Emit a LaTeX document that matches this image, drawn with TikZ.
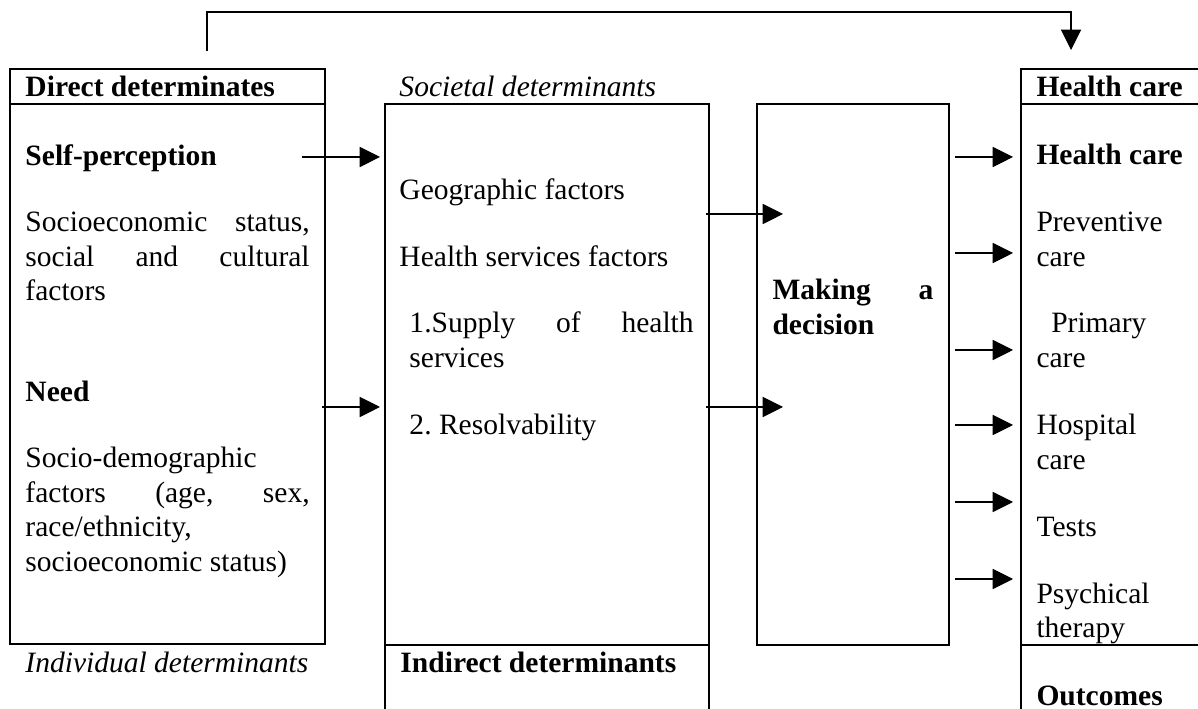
\documentclass[tikz,border=0pt]{standalone}
\usepackage{fontspec}
\setmainfont{Liberation Serif}
\usetikzlibrary{arrows.meta}
\hbadness=10000
\frenchspacing

\begin{document}
\begin{tikzpicture}[x=1.4287mm,y=1.4287mm,
    box/.style={line width=0.6pt},
    arr/.style={line width=0.45pt,-{Triangle[length=8.3pt,width=8.2pt]}},
    txt/.style={anchor=base west,inner sep=0pt,font=\fontsize{12}{14}\selectfont},
    para/.style={txt,text width=#1,align=justify},
    col/.style={txt,text width=21.4mm,align=left}]
    % Define parameters
    \def\colw{40.6mm}
    \def\decw{23.0mm}
    \useasboundingbox (0,0) rectangle (119.8,-70.9);

% Individual (direct) determinants
    \draw[box] (1.0,-6.9) rectangle (32.5,-64.4);
    \draw[box] (1.0,-10.4) -- (32.5,-10.4);
    \node[txt] (directhd) at (2.5,-9.7) {\textbf{Direct determinates}};
    \node[txt] (selfp) at (2.5,-16.6) {\textbf{Self-perception}};
    \node[para=\colw] (socio) at (2.5,-23.2) {Socioeconomic status,\linebreak social and cultural\linebreak factors};
    \node[txt] (need) at (2.5,-40.2) {\textbf{Need}};
    \node[para=\colw] (demog) at (2.5,-46.8) {Socio-demographic\newline factors (age, sex,\linebreak race/ethnicity,\newline socioeconomic status)};
    \node[txt] (indiv) at (2.5,-67.2) {\textit{Individual determinants}};

% Societal (indirect) determinants, open at the bottom
    \draw[box] (38.5,-72) -- (38.5,-10.4) -- (70.9,-10.4) -- (70.9,-72);
    \draw[box] (38.5,-64.5) -- (70.9,-64.5);
    \node[txt] (societ) at (39.9,-9.7) {\textit{Societal determinants}};
    \node[txt] (geo) at (39.9,-20.0) {Geographic factors};
    \node[txt] (hsf) at (39.9,-26.7) {Health services factors};
    \node[para=\colw] (supply) at (40.9,-33.3) {1.Supply of health\linebreak services};
    \node[txt] (resolv) at (40.9,-43.5) {2. Resolvability};
    \node[txt] (indirect) at (40.0,-67.2) {\textbf{Indirect determinants}};

% Decision box
    \draw[box] (75.7,-10.4) rectangle (94.9,-64.5);
    \node[para=\decw] (decide) at (77.2,-30.0) {\textbf{Making a\linebreak decision}};

% Health care column, open to the right
    \draw[box] (121,-6.9) -- (102.1,-6.9) -- (102.1,-72);
    \draw[box] (102.1,-10.4) -- (121,-10.4);
    \draw[box] (102.1,-64.5) -- (121,-64.5);
    \node[txt] (hchd) at (103.6,-9.7) {\textbf{Health care}};
    \node[txt] (hc) at (103.6,-16.5) {\textbf{Health care}};
    \node[col] (prev) at (103.6,-23.2) {Preventive\\care};
    \node[col] (prim) at (103.6,-33.3) {\hspace*{0.5em}Primary\\care};
    \node[col] (hosp) at (103.6,-43.5) {Hospital\\care};
    \node[txt] (tests) at (103.6,-53.7) {Tests};
    \node[col] (psych) at (103.6,-60.3) {Psychical\\therapy};
    \node[txt] (outc) at (103.6,-70.5) {\textbf{Outcomes}};

% Arrow ends
    \coordinate (selfp-out) at (30.2,-15.7);
    \coordinate (selfp-in)  at (38.0,-15.7);
    \coordinate (need-out)  at (32.2,-40.7);
    \coordinate (need-in)   at (38.0,-40.7);
    \coordinate (geo-out)   at (70.6,-21.4);
    \coordinate (geo-in)    at (78.3,-21.4);
    \coordinate (res-out)   at (70.6,-40.7);
    \coordinate (res-in)    at (78.3,-40.7);
    \coordinate (fb-start)  at (20.7,-5.1);
    \coordinate (fb-end)    at (107.1,-5.0);

% Arrows
    \draw[arr] (selfp-out) -- (selfp-in);
    \draw[arr] (need-out) -- (need-in);
    \draw[arr] (geo-out) -- (geo-in);
    \draw[arr] (res-out) -- (res-in);
    \foreach \y [count=\i] in {15.7,25.3,35.0,42.5,50.2,57.9} {
        \coordinate (dec-out\i) at (95.5,-\y);
        \coordinate (care-in\i) at (101.3,-\y);
        \draw[arr] (dec-out\i) -- (care-in\i);
    }
    % Feedback over the top
    \draw[arr] (fb-start) |- (64,-1.2) -| (fb-end);

\end{tikzpicture}
\end{document}
